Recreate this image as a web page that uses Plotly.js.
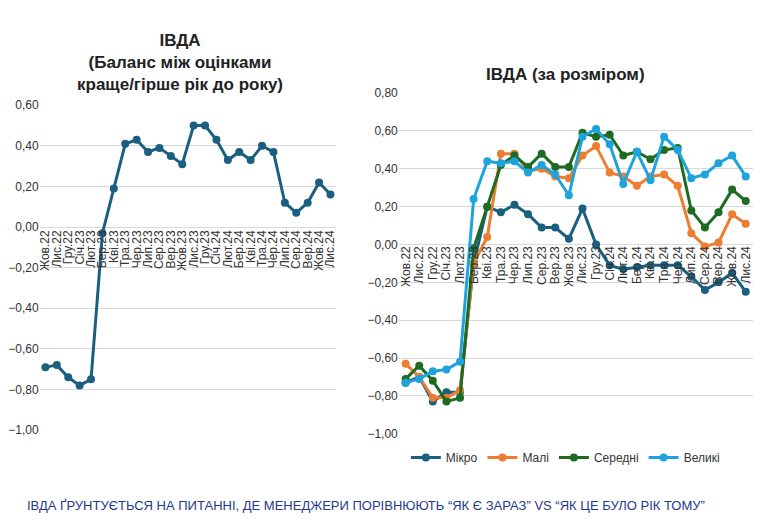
<!DOCTYPE html><html><head><meta charset="utf-8"><script src="https://cdn.plot.ly/plotly-3.0.1.min.js"></script></head><body style="margin:0"><div id="c" style="width:764px;height:529px"></div><script>
const months=["Жов.22","Лис.22","Гру.22","Січ.23","Лют.23","Бер.23","Кві.23","Тра.23","Чер.23","Лип.23","Сер.23","Вер.23","Жов.23","Лис.23","Гру.23","Січ.24","Лют.24","Бер.24","Кві.24","Тра.24","Чер.24","Лип.24","Сер.24","Вер.24","Жов.24","Лис.24"];
const total=[-0.69,-0.68,-0.74,-0.78,-0.75,-0.03,0.19,0.41,0.43,0.37,0.39,0.35,0.31,0.50,0.50,0.43,0.33,0.37,0.33,0.40,0.37,0.12,0.07,0.12,0.22,0.16];
const micro=[-0.73,-0.70,-0.83,-0.78,-0.78,-0.10,0.20,0.17,0.21,0.16,0.09,0.09,0.03,0.19,0.00,-0.11,-0.13,-0.12,-0.11,-0.11,-0.11,-0.17,-0.24,-0.20,-0.15,-0.25];
const mali=[-0.63,-0.70,-0.81,-0.81,-0.77,-0.10,0.04,0.48,0.48,0.39,0.40,0.36,0.35,0.47,0.52,0.38,0.36,0.31,0.36,0.37,0.31,0.06,-0.01,0.01,0.16,0.11];
const seredni=[-0.71,-0.64,-0.72,-0.83,-0.81,-0.02,0.20,0.42,0.47,0.41,0.48,0.41,0.41,0.59,0.57,0.58,0.47,0.49,0.45,0.50,0.51,0.18,0.09,0.17,0.29,0.23];
const veliki=[-0.73,-0.71,-0.67,-0.66,-0.62,0.24,0.44,0.43,0.44,0.38,0.42,0.37,0.26,0.57,0.61,0.53,0.32,0.49,0.34,0.57,0.50,0.35,0.37,0.43,0.47,0.36];
const idx=months.map((m,i)=>i);
function tr(y,name,color,xa,ya,show){return {x:idx,y:y,name:name,type:'scatter',mode:'lines+markers',line:{color:color,width:3},marker:{color:color,size:8},xaxis:xa,yaxis:ya,showlegend:show};}
const data=[tr(total,'ІВДА','#1a5e80','x','y',false),
tr(micro,'Мікро','#1a5e80','x2','y2',true),tr(mali,'Малі','#ed7d31','x2','y2',true),tr(seredni,'Середні','#1e6b23','x2','y2',true),tr(veliki,'Великі','#1ea3dc','x2','y2',true)];
const f={family:'Liberation Sans, Arial',size:12,color:'#333'};
const xax=(dom,pos)=>({domain:dom,anchor:'free',position:pos,range:[-0.5,25.5],tickmode:'array',tickvals:idx,ticktext:months,tickangle:-90,showgrid:false,zeroline:false,showline:false,ticks:'',tickfont:{family:'Liberation Sans, Arial',size:12,color:'#333'},fixedrange:true});
const layout={width:764,height:529,margin:{l:0,r:0,t:0,b:0},paper_bgcolor:'white',plot_bgcolor:'rgba(0,0,0,0)',font:f,
xaxis:xax([0.052,0.44],0.571),
yaxis:{domain:[0.187,0.801],range:[-1,0.6],dtick:0.2,tickformat:'.2f',gridcolor:'#d9d9d9',zeroline:false,anchor:'x',tickfont:f},
xaxis2:xax([0.522,0.985],0.541),
yaxis2:{domain:[0.180,0.824],range:[-1,0.8],dtick:0.2,tickformat:'.2f',gridcolor:'#d9d9d9',zeroline:false,anchor:'x2',tickfont:f},
separators:', ',
legend:{orientation:'h',x:0.74,xanchor:'center',y:0.135,yanchor:'middle',font:{family:'Liberation Sans, Arial',size:12,color:'#333'}},
annotations:[
{text:'<b>ІВДА<br>(Баланс між оцінками<br>краще/гірше рік до року)</b>',xref:'paper',yref:'paper',x:0.236,xanchor:'center',y:0.945,yanchor:'top',showarrow:false,font:{family:'Liberation Sans, Arial',size:17,color:'#222'}},
{text:'<b>ІВДА (за розміром)</b>',xref:'paper',yref:'paper',x:0.74,xanchor:'center',y:0.86,yanchor:'middle',showarrow:false,font:{family:'Liberation Sans, Arial',size:17,color:'#222'}},
{text:'ІВДА ҐРУНТУЄТЬСЯ НА ПИТАННІ, ДЕ МЕНЕДЖЕРИ ПОРІВНЮЮТЬ “ЯК Є ЗАРАЗ” VS “ЯК ЦЕ БУЛО РІК ТОМУ”',xref:'paper',yref:'paper',x:0.033,xanchor:'left',y:0.045,yanchor:'middle',showarrow:false,font:{family:'Liberation Sans, Arial',size:13,color:'#1f3a8a'}}
]};
Plotly.newPlot('c',data,layout,{staticPlot:true});
</script></body></html>
